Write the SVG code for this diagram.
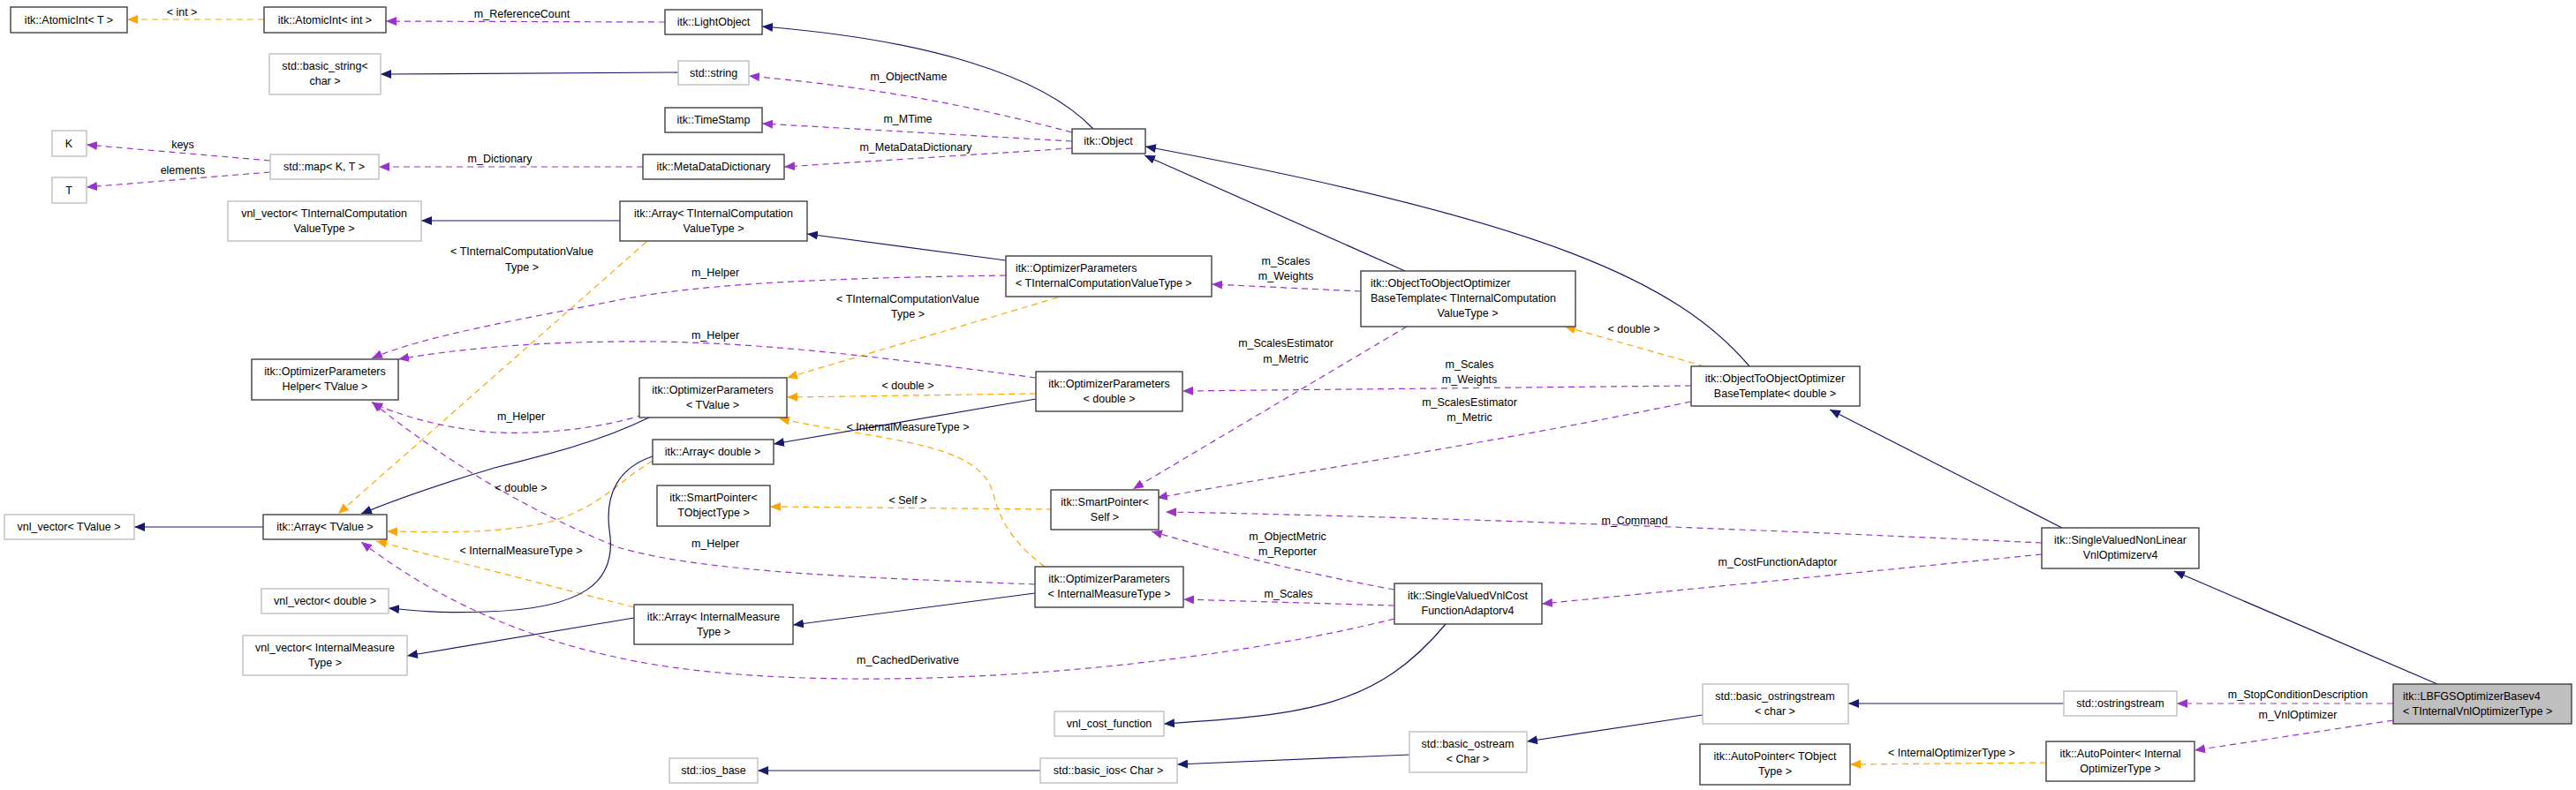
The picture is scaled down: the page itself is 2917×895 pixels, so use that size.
<svg xmlns="http://www.w3.org/2000/svg" width="2917" height="895" viewBox="0 0 2917 895">
<style>
text{font-family:"Liberation Sans",Arial,sans-serif;font-size:12.5px;fill:#000}
.n rect{fill:#fff;stroke:#404040;stroke-width:1.4}
.u rect{fill:#fff;stroke:#bfbfbf;stroke-width:1.4}
.c{text-anchor:middle}
.i{fill:none;stroke:#191970;stroke-width:1.2;marker-end:url(#ai)}
.m{fill:none;stroke:#9a32cd;stroke-width:1.2;stroke-dasharray:7,5;marker-end:url(#am)}
.t{fill:none;stroke:#ffa500;stroke-width:1.2;stroke-dasharray:7,5;marker-end:url(#at)}
</style>
<defs>
<marker id="ai" viewBox="0 0 12 10" refX="12" refY="5" markerWidth="12" markerHeight="10" markerUnits="userSpaceOnUse" orient="auto"><path d="M0,0L12,5L0,10z" fill="#191970"/></marker>
<marker id="am" viewBox="0 0 12 10" refX="12" refY="5" markerWidth="12" markerHeight="10" markerUnits="userSpaceOnUse" orient="auto"><path d="M0,0L12,5L0,10z" fill="#9a32cd"/></marker>
<marker id="at" viewBox="0 0 12 10" refX="12" refY="5" markerWidth="12" markerHeight="10" markerUnits="userSpaceOnUse" orient="auto"><path d="M0,0L12,5L0,10z" fill="#ffa500"/></marker>
</defs>
<rect width="2917" height="895" fill="#fff"/>
<g id="edges">
<path class="t" d="M299,22L144,22"/>
<path class="m" d="M753,25L437,24"/>
<path class="i" d="M768,82L431,84"/>
<path class="i" d="M1238,146C1180,85 1050,45 863,30"/>
<path class="m" d="M1214,150C1100,120 1000,100 848,86"/>
<path class="m" d="M1214,160L863,140"/>
<path class="m" d="M1214,168L888,189"/>
<path class="m" d="M728,189L429,189"/>
<path class="m" d="M306,182L98,164"/>
<path class="m" d="M306,195L98,212"/>
<path class="i" d="M702,250L477,250"/>
<path class="i" d="M1139,295L914,265"/>
<path class="i" d="M1591,307L1296,176"/>
<path class="i" d="M1981,415C1900,320 1750,250 1297,166"/>
<path class="t" d="M1930,415L1772,370"/>
<path class="m" d="M1541,330L1372,322"/>
<path class="m" d="M1915,437L1339,443"/>
<path class="m" d="M1593,370L1283,554"/>
<path class="m" d="M1915,455C1700,500 1500,530 1310,564"/>
<path class="i" d="M2335,598L2072,464"/>
<path class="m" d="M2312,615C2000,600 1600,585 1320,580"/>
<path class="m" d="M2312,628L1746,684"/>
<path class="i" d="M2760,775L2462,647"/>
<path class="m" d="M2710,797L2465,797"/>
<path class="m" d="M2710,816L2485,850"/>
<path class="t" d="M2317,864L2095,866"/>
<path class="i" d="M2337,797L2093,797"/>
<path class="i" d="M1928,810L1729,840"/>
<path class="i" d="M1596,855L1333,866"/>
<path class="i" d="M1178,873L858,873"/>
<path class="i" d="M1637,707C1560,800 1480,810 1318,820"/>
<path class="m" d="M1579,668C1480,650 1400,630 1304,602"/>
<path class="m" d="M1579,686L1340,679"/>
<path class="m" d="M1579,701C1300,770 900,790 700,745C560,715 470,660 409,614"/>
<path class="i" d="M1172,672L898,708"/>
<path class="i" d="M718,700L461,743"/>
<path class="m" d="M1172,662C1000,655 800,650 700,620C600,580 500,520 421,455"/>
<path class="t" d="M1183,642C1140,610 1130,580 1125,560C1110,500 1000,500 882,474"/>
<path class="t" d="M718,688L426,613"/>
<path class="t" d="M739,522C700,545 680,575 620,592C560,605 500,603 438,602"/>
<path class="i" d="M739,517C700,530 685,560 690,600C700,660 660,690 550,693C500,695 470,692 440,689"/>
<path class="i" d="M1173,452L876,503"/>
<path class="m" d="M1173,428C1000,405 850,385 700,387C600,388 520,395 451,407"/>
<path class="t" d="M1173,446L891,450"/>
<path class="m" d="M1139,312C950,315 800,320 700,340C600,360 480,380 421,406"/>
<path class="t" d="M1198,337L891,428"/>
<path class="t" d="M732,274L383,582"/>
<path class="i" d="M298,597L152,597"/>
<path class="i" d="M735,473C680,500 620,515 560,530C500,548 450,565 409,582"/>
<path class="m" d="M728,470C680,485 620,492 560,490C500,485 450,470 421,456"/>
<path class="t" d="M1192,577L872,574"/>
</g>
<g id="labels" class="c">
<text x="206" y="18" class="c">&lt; int &gt;</text>
<text x="591" y="20" class="c">m_ReferenceCount</text>
<text x="207" y="168" class="c">keys</text>
<text x="207" y="197" class="c">elements</text>
<text x="566" y="184" class="c">m_Dictionary</text>
<text x="591" y="289" class="c">&lt; TInternalComputationValue</text>
<text x="591" y="307" class="c">Type &gt;</text>
<text x="1029" y="91" class="c">m_ObjectName</text>
<text x="1028" y="139" class="c">m_MTime</text>
<text x="1037" y="171" class="c">m_MetaDataDictionary</text>
<text x="810" y="313" class="c">m_Helper</text>
<text x="1028" y="343" class="c">&lt; TInternalComputationValue</text>
<text x="1028" y="360" class="c">Type &gt;</text>
<text x="810" y="384" class="c">m_Helper</text>
<text x="1028" y="441" class="c">&lt; double &gt;</text>
<text x="590" y="476" class="c">m_Helper</text>
<text x="590" y="557" class="c">&lt; double &gt;</text>
<text x="590" y="628" class="c">&lt; InternalMeasureType &gt;</text>
<text x="1028" y="488" class="c">&lt; InternalMeasureType &gt;</text>
<text x="1028" y="571" class="c">&lt; Self &gt;</text>
<text x="810" y="620" class="c">m_Helper</text>
<text x="1028" y="752" class="c">m_CachedDerivative</text>
<text x="1456" y="300" class="c">m_Scales</text>
<text x="1456" y="317" class="c">m_Weights</text>
<text x="1456" y="393" class="c">m_ScalesEstimator</text>
<text x="1456" y="411" class="c">m_Metric</text>
<text x="1850" y="377" class="c">&lt; double &gt;</text>
<text x="1664" y="417" class="c">m_Scales</text>
<text x="1664" y="434" class="c">m_Weights</text>
<text x="1664" y="460" class="c">m_ScalesEstimator</text>
<text x="1664" y="477" class="c">m_Metric</text>
<text x="1851" y="594" class="c">m_Command</text>
<text x="1458" y="612" class="c">m_ObjectMetric</text>
<text x="1458" y="629" class="c">m_Reporter</text>
<text x="2013" y="641" class="c">m_CostFunctionAdaptor</text>
<text x="1459" y="677" class="c">m_Scales</text>
<text x="2602" y="791" class="c">m_StopConditionDescription</text>
<text x="2602" y="814" class="c">m_VnlOptimizer</text>
<text x="2210" y="857" class="c">&lt; InternalOptimizerType &gt;</text>
</g>
<g id="n1" class="n"><rect x="12" y="8" width="132" height="29"/><text x="78" y="27" class="c">itk::AtomicInt&lt; T &gt;</text></g>
<g id="n2" class="n"><rect x="299" y="8" width="138" height="29"/><text x="368" y="27" class="c">itk::AtomicInt&lt; int &gt;</text></g>
<g id="n3" class="u"><rect x="305" y="61" width="126" height="46"/><text x="368" y="79" class="c">std::basic_string&lt;</text><text x="368" y="96" class="c">char &gt;</text></g>
<g id="n4" class="u"><rect x="59" y="148" width="39" height="29"/><text x="78" y="167" class="c">K</text></g>
<g id="n5" class="u"><rect x="59" y="201" width="39" height="29"/><text x="78" y="220" class="c">T</text></g>
<g id="n6" class="u"><rect x="306" y="175" width="123" height="28"/><text x="367" y="193" class="c">std::map&lt; K, T &gt;</text></g>
<g id="n7" class="u"><rect x="258" y="228" width="219" height="45"/><text x="367" y="246" class="c">vnl_vector&lt; TInternalComputation</text><text x="367" y="263" class="c">ValueType &gt;</text></g>
<g id="n8" class="n"><rect x="285" y="407" width="166" height="46"/><text x="368" y="425" class="c">itk::OptimizerParameters</text><text x="368" y="442" class="c">Helper&lt; TValue &gt;</text></g>
<g id="n9" class="n"><rect x="298" y="583" width="140" height="28"/><text x="368" y="601" class="c">itk::Array&lt; TValue &gt;</text></g>
<g id="n10" class="u"><rect x="5" y="583" width="147" height="28"/><text x="78" y="601" class="c">vnl_vector&lt; TValue &gt;</text></g>
<g id="n11" class="u"><rect x="296" y="667" width="144" height="28"/><text x="368" y="685" class="c">vnl_vector&lt; double &gt;</text></g>
<g id="n12" class="u"><rect x="275" y="720" width="186" height="45"/><text x="368" y="738" class="c">vnl_vector&lt; InternalMeasure</text><text x="368" y="755" class="c">Type &gt;</text></g>
<g id="n13" class="n"><rect x="753" y="11" width="110" height="28"/><text x="808" y="29" class="c">itk::LightObject</text></g>
<g id="n14" class="u"><rect x="768" y="69" width="80" height="27"/><text x="808" y="87" class="c">std::string</text></g>
<g id="n15" class="n"><rect x="753" y="122" width="110" height="28"/><text x="808" y="140" class="c">itk::TimeStamp</text></g>
<g id="n16" class="n"><rect x="728" y="175" width="160" height="28"/><text x="808" y="193" class="c">itk::MetaDataDictionary</text></g>
<g id="n17" class="n"><rect x="1214" y="146" width="83" height="28"/><text x="1255" y="164" class="c">itk::Object</text></g>
<g id="n18" class="n"><rect x="702" y="228" width="212" height="45"/><text x="808" y="246" class="c">itk::Array&lt; TInternalComputation</text><text x="808" y="263" class="c">ValueType &gt;</text></g>
<g id="n19" class="n"><rect x="1139" y="290" width="233" height="46"/><text x="1150" y="308">itk::OptimizerParameters</text><text x="1150" y="325">&lt; TInternalComputationValueType &gt;</text></g>
<g id="n20" class="n"><rect x="724" y="428" width="167" height="45"/><text x="807" y="446" class="c">itk::OptimizerParameters</text><text x="807" y="463" class="c">&lt; TValue &gt;</text></g>
<g id="n21" class="n"><rect x="1173" y="421" width="166" height="45"/><text x="1256" y="439" class="c">itk::OptimizerParameters</text><text x="1256" y="456" class="c">&lt; double &gt;</text></g>
<g id="n22" class="n"><rect x="739" y="498" width="137" height="28"/><text x="807" y="516" class="c">itk::Array&lt; double &gt;</text></g>
<g id="n23" class="n"><rect x="744" y="550" width="128" height="46"/><text x="808" y="568" class="c">itk::SmartPointer&lt;</text><text x="808" y="585" class="c">TObjectType &gt;</text></g>
<g id="n24" class="n"><rect x="1172" y="642" width="168" height="46"/><text x="1256" y="660" class="c">itk::OptimizerParameters</text><text x="1256" y="677" class="c">&lt; InternalMeasureType &gt;</text></g>
<g id="n25" class="n"><rect x="718" y="685" width="180" height="45"/><text x="808" y="703" class="c">itk::Array&lt; InternalMeasure</text><text x="808" y="720" class="c">Type &gt;</text></g>
<g id="n26" class="n"><rect x="1190" y="555" width="122" height="45"/><text x="1251" y="573" class="c">itk::SmartPointer&lt;</text><text x="1251" y="590" class="c">Self &gt;</text></g>
<g id="n27" class="u"><rect x="1194" y="806" width="124" height="28"/><text x="1256" y="824" class="c">vnl_cost_function</text></g>
<g id="n28" class="u"><rect x="758" y="859" width="100" height="28"/><text x="808" y="877" class="c">std::ios_base</text></g>
<g id="n29" class="u"><rect x="1178" y="859" width="155" height="28"/><text x="1255" y="877" class="c">std::basic_ios&lt; Char &gt;</text></g>
<g id="n30" class="n"><rect x="1541" y="307" width="243" height="63"/><text x="1552" y="325">itk::ObjectToObjectOptimizer</text><text x="1552" y="342">BaseTemplate&lt; TInternalComputation</text><text x="1662" y="359" class="c">ValueType &gt;</text></g>
<g id="n31" class="n"><rect x="1915" y="415" width="191" height="45"/><text x="2010" y="433" class="c">itk::ObjectToObjectOptimizer</text><text x="2010" y="450" class="c">BaseTemplate&lt; double &gt;</text></g>
<g id="n32" class="n"><rect x="1579" y="661" width="167" height="46"/><text x="1662" y="679" class="c">itk::SingleValuedVnlCost</text><text x="1662" y="696" class="c">FunctionAdaptorv4</text></g>
<g id="n33" class="u"><rect x="1928" y="775" width="165" height="45"/><text x="2010" y="793" class="c">std::basic_ostringstream</text><text x="2010" y="810" class="c">&lt; char &gt;</text></g>
<g id="n34" class="u"><rect x="1596" y="829" width="133" height="46"/><text x="1662" y="847" class="c">std::basic_ostream</text><text x="1662" y="864" class="c">&lt; Char &gt;</text></g>
<g id="n35" class="n"><rect x="1925" y="843" width="170" height="46"/><text x="2010" y="861" class="c">itk::AutoPointer&lt; TObject</text><text x="2010" y="878" class="c">Type &gt;</text></g>
<g id="n36" class="n"><rect x="2312" y="598" width="178" height="46"/><text x="2401" y="616" class="c">itk::SingleValuedNonLinear</text><text x="2401" y="633" class="c">VnlOptimizerv4</text></g>
<g id="n37" class="u"><rect x="2337" y="783" width="128" height="28"/><text x="2401" y="801" class="c">std::ostringstream</text></g>
<g id="n38" class="n"><rect x="2710" y="775" width="202" height="45" style="fill:#bfbfbf"/><text x="2721" y="793">itk::LBFGSOptimizerBasev4</text><text x="2721" y="810">&lt; TInternalVnlOptimizerType &gt;</text></g>
<g id="n39" class="n"><rect x="2317" y="840" width="168" height="45"/><text x="2401" y="858" class="c">itk::AutoPointer&lt; Internal</text><text x="2401" y="875" class="c">OptimizerType &gt;</text></g>
</svg>
